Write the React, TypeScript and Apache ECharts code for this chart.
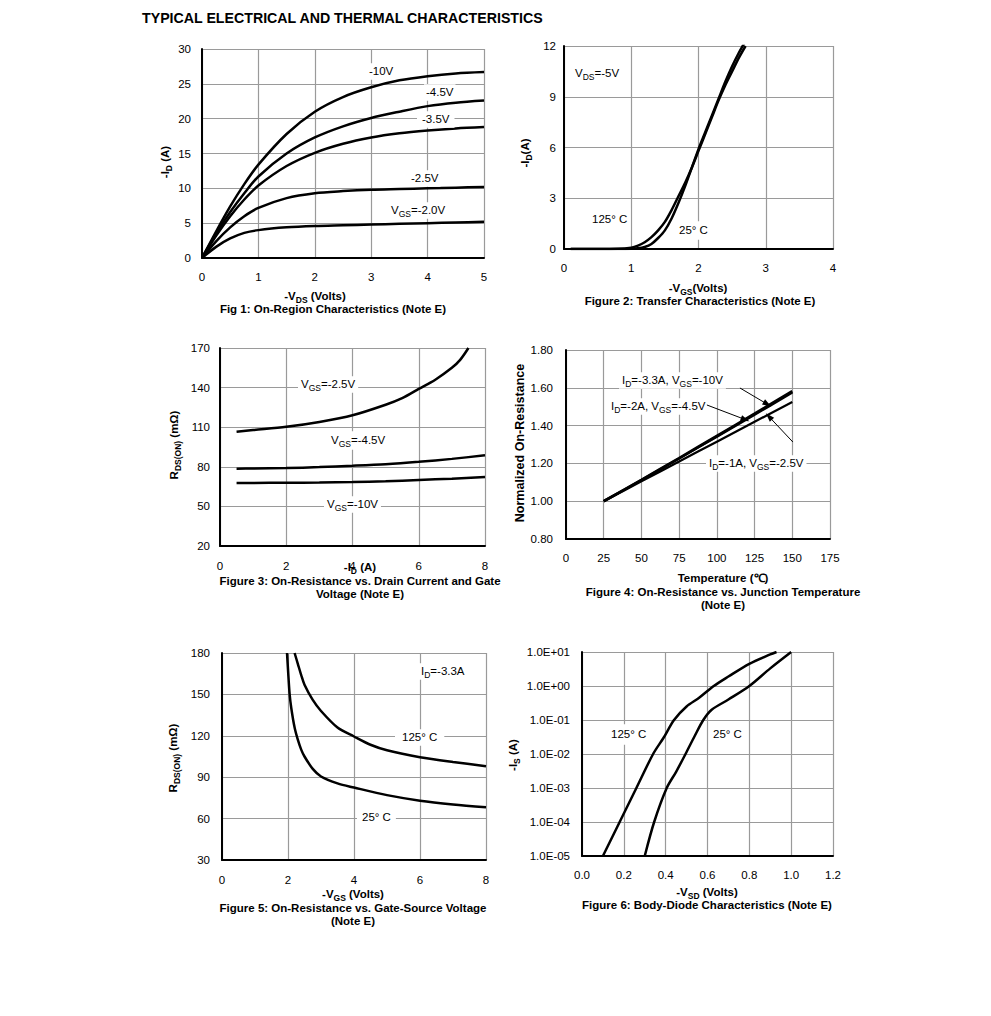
import React, { useEffect, useRef } from "react";
import * as echarts from "echarts";

// ---------- Fig 1: On-region characteristics ----------
const fig1Vds = [0, 0.25, 0.5, 0.75, 1, 1.5, 2, 2.5, 3, 3.5, 4, 4.5, 5];
const fig1Vgs10 = [0, 3.8, 7.4, 10.6, 13.4, 17.8, 21.0, 23.1, 24.5, 25.5, 26.1, 26.5, 26.7];
const fig1Vgs45 = [0, 3.5, 6.6, 9.3, 11.7, 15.0, 17.3, 18.9, 20.1, 21.0, 21.8, 22.3, 22.6];
const fig1Vgs35 = [0, 3.2, 6.0, 8.4, 10.4, 13.2, 15.1, 16.4, 17.3, 17.9, 18.3, 18.6, 18.8];
const fig1Vgs25 = [0, 2.4, 4.4, 6.0, 7.2, 8.6, 9.3, 9.6, 9.8, 9.9, 10.0, 10.1, 10.2];
const fig1Vgs20 = [0, 1.6, 2.8, 3.6, 4.0, 4.4, 4.6, 4.7, 4.8, 4.9, 5.0, 5.1, 5.2];

// ---------- Fig 2: Transfer characteristics ----------
const fig2Vgs = [0.1, 0.5, 0.8, 1.0, 1.1, 1.2, 1.3, 1.4, 1.5, 1.6, 1.7, 1.8, 1.9, 2.0, 2.1, 2.2, 2.3, 2.4, 2.5, 2.6, 2.7];
const fig2Id125 = [0, 0, 0.01, 0.08, 0.2, 0.4, 0.7, 1.1, 1.6, 2.3, 3.1, 3.9, 4.8, 5.8, 6.8, 7.8, 8.8, 9.7, 10.5, 11.3, 12.0];
const fig2Id25 = [0, 0, 0, 0.01, 0.04, 0.12, 0.3, 0.65, 1.1, 1.8, 2.7, 3.7, 4.8, 5.9, 6.9, 7.9, 8.9, 9.9, 10.8, 11.6, 12.3];

// ---------- Fig 3: On-resistance vs drain current ----------
const fig3IdA = [0.5, 1, 2, 3, 4, 5, 5.5, 6, 6.5, 7, 7.25, 7.5];
const fig3R25 = [106.5, 107.8, 110.3, 114, 119, 127, 132, 139, 146, 155, 161, 170];
const fig3IdB = [0.5, 1, 2, 3, 4, 5, 6, 7, 8];
const fig3R45 = [78.6, 78.7, 79, 79.8, 80.8, 82, 83.8, 86, 88.7];
const fig3R10 = [67.8, 67.8, 67.9, 68.1, 68.4, 69, 70, 71, 72.3];

// ---------- Fig 4: Normalized on-resistance vs temperature ----------
const fig4Temp = [25, 50, 75, 100, 125, 150];
const fig4R33 = [1.0, 1.113, 1.228, 1.345, 1.463, 1.582];
const fig4R2 = [1.0, 1.112, 1.226, 1.342, 1.458, 1.575];
const fig4R1 = [1.0, 1.105, 1.21, 1.315, 1.42, 1.525];

// ---------- Fig 5: On-resistance vs gate-source voltage ----------
const fig5Vgs25 = [1.97, 2.0, 2.05, 2.1, 2.2, 2.3, 2.4, 2.5, 2.75, 3, 3.5, 4, 5, 6, 7, 8];
const fig5R25 = [180, 168, 150, 140, 126, 117, 110, 105, 96, 90.5, 85.5, 82.5, 77, 73, 70.3, 68.3];
const fig5Vgs125 = [2.2, 2.3, 2.4, 2.5, 2.75, 3, 3.5, 4, 4.5, 5, 6, 7, 8];
const fig5R125 = [180, 172, 164, 157, 146, 138, 126, 119.5, 113.5, 109.5, 104.5, 101, 98];

// ---------- Fig 6: Body-diode characteristics ----------
const fig6Vsd125 = [0.1, 0.18, 0.26, 0.34, 0.39, 0.44, 0.5, 0.56, 0.63, 0.7, 0.8, 0.9, 0.93];
const fig6Is125 = [1e-5, 1e-4, 1e-3, 1e-2, 3e-2, 0.1, 0.25, 0.45, 1.0, 1.9, 4.5, 8.5, 10];
const fig6Vsd25 = [0.3, 0.345, 0.405, 0.45, 0.495, 0.54, 0.58, 0.62, 0.7, 0.8, 0.9, 1.0];
const fig6Is25 = [1e-5, 1e-4, 1e-3, 3e-3, 1e-2, 3.5e-2, 0.1, 0.2, 0.4, 1.0, 3.3, 10];

const FONT = "'Liberation Sans', Arial, Helvetica, sans-serif";
const FS = 11.5; // normal text size
const SUB = 8.5; // subscript size
const SUB_SHIFT = 3.5;

const zip = (xs: number[], ys: number[]) => xs.map((x, i) => [x, ys[i]]);

let measureCtx: CanvasRenderingContext2D | null = null;
function textWidth(text: string, font: string) {
  if (!measureCtx) measureCtx = document.createElement("canvas").getContext("2d");
  if (!measureCtx) return text.length * 6;
  measureCtx.font = font;
  return measureCtx.measureText(text).width;
}

type Piece = [string, boolean]; // [text, isSubscript]
const P = (...parts: (string | [string])[]): Piece[] =>
  parts.map((p) => (Array.isArray(p) ? [p[0], true] : [p, false]));

function lbl(x: number, y: number, pieces: Piece[], opts: any = {}) {
  const bold = !!opts.bold;
  const size = opts.size || FS;
  const fontOf = (sub: boolean) => `${bold ? "bold " : ""}${sub ? SUB : size}px ${FONT}`;
  const widths = pieces.map(([t, s]) => textWidth(t, fontOf(s)));
  const total = widths.reduce((a, b) => a + b, 0);
  let cx = opts.align === "center" ? -total / 2 : 0;
  const children: any[] = [];
  if (opts.bg) {
    const px = opts.padX ?? 3;
    const py = opts.padY ?? 1;
    children.push({
      type: "rect",
      z: 4,
      silent: true,
      shape: { x: cx - px, y: -size / 2 - py - 1, width: total + 2 * px, height: size + 2 * py + 3 },
      style: { fill: "#fff" },
    });
  }
  pieces.forEach(([t, s], i) => {
    children.push({
      type: "text",
      z: 5,
      x: cx,
      y: s ? SUB_SHIFT : 0,
      style: {
        text: t,
        font: fontOf(s),
        fill: "#000",
        align: "left",
        textAlign: "left",
        verticalAlign: "middle",
        textVerticalAlign: "middle",
      },
    });
    cx += widths[i];
  });
  return { type: "group", x, y, rotation: opts.rotation || 0, z: 5, children };
}

const ROT = Math.PI / 2;

function grid(left: number, top: number, width: number, height: number) {
  return { left, top, width, height, containLabel: false, show: false };
}

function vAxis(gridIndex: number, min: number, max: number, interval: number, margin: number, fmt?: (v: number) => string) {
  return {
    type: "value",
    gridIndex,
    min,
    max,
    interval,
    axisLine: { show: true, onZero: false, lineStyle: { color: "#000", width: 2 } },
    axisTick: { show: false },
    axisLabel: {
      show: true,
      margin,
      color: "#000",
      fontSize: FS,
      fontFamily: FONT,
      formatter: fmt,
      showMinLabel: true,
      showMaxLabel: true,
    },
    splitLine: { show: true, lineStyle: { color: "#9a9a9a", width: 1.2 } },
  };
}

function line(xi: number, data: number[][], width = 2.5, extra: any = {}) {
  return {
    type: "line",
    xAxisIndex: xi,
    yAxisIndex: xi,
    data,
    showSymbol: false,
    symbol: "none",
    smooth: 0.3,
    clip: true,
    lineStyle: { color: "#000", width },
    ...extra,
  };
}

const logFmt = (v: number) => {
  const e = Math.round(Math.log10(v));
  return "1.0E" + (e >= 0 ? "+" : "-") + String(Math.abs(e)).padStart(2, "0");
};

export default function App() {
  const ref = useRef<HTMLDivElement>(null);
  useEffect(() => {
    if (!ref.current) return;
    const chart = echarts.init(ref.current, undefined, { renderer: "svg" });
    const arrowLine = (from: number[], to: number[]) => [
      { coord: from, symbol: "none" },
      { coord: to, symbol: "triangle" },
    ];
    const B = { bold: true, align: "center" };
    const BR = { bold: true, align: "center", rotation: ROT };
    const option: any = {
      animation: false,
      backgroundColor: "#fff",
      textStyle: { fontFamily: FONT },
      grid: [
        grid(202, 49, 282, 209),
        grid(564, 46, 269, 203),
        grid(220, 348, 265, 198),
        grid(566, 350, 264, 189),
        grid(222, 653, 264, 207),
        grid(582, 652, 251, 204),
      ],
      xAxis: [
        vAxis(0, 0, 5, 1, 13),
        vAxis(1, 0, 4, 1, 13),
        vAxis(2, 0, 8, 2, 14),
        vAxis(3, 0, 175, 25, 13),
        vAxis(4, 0, 8, 2, 14),
        vAxis(5, 0, 1.2, 0.2, 13, (v: number) => v.toFixed(1)),
      ],
      yAxis: [
        vAxis(0, 0, 30, 5, 11),
        vAxis(1, 0, 12, 3, 8),
        vAxis(2, 20, 170, 30, 10),
        vAxis(3, 0.8, 1.8, 0.2, 13, (v: number) => v.toFixed(2)),
        vAxis(4, 30, 180, 30, 12),
        {
          type: "log",
          gridIndex: 5,
          logBase: 10,
          min: 1e-5,
          max: 10,
          splitNumber: 6,
          axisLine: { show: true, onZero: false, lineStyle: { color: "#000", width: 2 } },
          axisTick: { show: false },
          axisLabel: { show: true, margin: 12, color: "#000", fontSize: FS, fontFamily: FONT, formatter: logFmt },
          splitLine: { show: true, lineStyle: { color: "#9a9a9a", width: 1.2 } },
        },
      ],
      series: [
        line(0, zip(fig1Vds, fig1Vgs10)),
        line(0, zip(fig1Vds, fig1Vgs45)),
        line(0, zip(fig1Vds, fig1Vgs35)),
        line(0, zip(fig1Vds, fig1Vgs25)),
        line(0, zip(fig1Vds, fig1Vgs20)),
        line(1, zip(fig2Vgs, fig2Id125)),
        line(1, zip(fig2Vgs, fig2Id25)),
        line(2, zip(fig3IdA, fig3R25)),
        line(2, zip(fig3IdB, fig3R45)),
        line(2, zip(fig3IdB, fig3R10)),
        line(3, zip(fig4Temp, fig4R33), 2.8, {
          markLine: {
            silent: true,
            symbolSize: [6, 9],
            label: { show: false },
            lineStyle: { color: "#000", width: 1, type: "solid" },
            data: [
              arrowLine([115.3, 1.599], [133.5, 1.513]),
              arrowLine([93.4, 1.509], [118.8, 1.432]),
              arrowLine([150.4, 1.313], [134.5, 1.448]),
            ],
          },
        }),
        line(3, zip(fig4Temp, fig4R2), 2.5),
        line(3, zip(fig4Temp, fig4R1), 2.2),
        line(4, zip(fig5Vgs25, fig5R25)),
        line(4, zip(fig5Vgs125, fig5R125)),
        line(5, zip(fig6Vsd125, fig6Is125)),
        line(5, zip(fig6Vsd25, fig6Is25)),
      ],
      graphic: [
        {
          type: "text",
          x: 142,
          y: 18,
          style: {
            text: "TYPICAL ELECTRICAL AND THERMAL CHARACTERISTICS",
            font: `bold 14.2px ${FONT}`,
            fill: "#000",
            verticalAlign: "middle",
            textVerticalAlign: "middle",
          },
        },
        // Fig 1
        lbl(369, 71, P("-10V"), { bg: true, padX: 2 }),
        lbl(426, 92, P("-4.5V"), { bg: true, padX: 2 }),
        lbl(422, 119, P("-3.5V"), { bg: true, padX: 5 }),
        lbl(411, 178, P("-2.5V"), { bg: true, padX: 2 }),
        lbl(391, 210, P("V", ["GS"], "=-2.0V"), { bg: true, padX: 2 }),
        lbl(165, 162, P("-I", ["D"], " (A)"), BR),
        lbl(315, 296, P("-V", ["DS"], " (Volts)"), B),
        lbl(333, 309, P("Fig 1: On-Region Characteristics (Note E)"), B),
        // Fig 2
        lbl(575, 73, P("V", ["DS"], "=-5V"), { bg: true, padX: 3, padY: 6 }),
        lbl(592, 219, P("125° C"), { bg: true, padX: 3, padY: 4 }),
        lbl(679, 230, P("25° C"), { bg: true, padX: 3, padY: 2 }),
        lbl(525, 153, P("-I", ["D"], "(A)"), BR),
        lbl(698, 288, P("-V", ["GS"], "(Volts)"), B),
        lbl(700, 301, P("Figure 2: Transfer Characteristics (Note E)"), B),
        // Fig 3
        lbl(301, 384, P("V", ["GS"], "=-2.5V"), { bg: true, padX: 3 }),
        lbl(331, 440, P("V", ["GS"], "=-4.5V"), { bg: true, padX: 3, padY: 2 }),
        lbl(327, 504, P("V", ["GS"], "=-10V"), { bg: true, padX: 3 }),
        lbl(174, 445, P("R", ["DS(ON)"], " (mΩ)"), BR),
        lbl(360, 567, P("-I", ["D"], " (A)"), B),
        lbl(360, 581, P("Figure 3: On-Resistance vs. Drain Current and Gate"), B),
        lbl(360, 594, P("Voltage (Note E)"), B),
        // Fig 4
        lbl(622, 380, P("I", ["D"], "=-3.3A, V", ["GS"], "=-10V"), { bg: true, padX: 3 }),
        lbl(611, 406, P("I", ["D"], "=-2A, V", ["GS"], "=-4.5V"), { bg: true, padX: 3 }),
        lbl(709, 463, P("I", ["D"], "=-1A, V", ["GS"], "=-2.5V"), { bg: true, padX: 3 }),
        lbl(520, 443, P("Normalized On-Resistance"), { ...BR, size: 12.5 }),
        lbl(723, 578, P("Temperature (℃)"), B),
        lbl(723, 592, P("Figure 4: On-Resistance vs. Junction Temperature"), B),
        lbl(723, 605, P("(Note E)"), B),
        // Fig 5
        lbl(421, 671, P("I", ["D"], "=-3.3A"), { bg: true, padX: 2 }),
        lbl(402, 737, P("125° C"), { bg: true, padX: 7 }),
        lbl(362, 817, P("25° C"), { bg: true, padX: 5 }),
        lbl(173, 758, P("R", ["DS(ON)"], " (mΩ)"), BR),
        lbl(353, 894, P("-V", ["GS"], " (Volts)"), B),
        lbl(353, 908, P("Figure 5: On-Resistance vs. Gate-Source Voltage"), B),
        lbl(353, 921, P("(Note E)"), B),
        // Fig 6
        lbl(611, 734, P("125° C"), { bg: true, padX: 3, padY: 3 }),
        lbl(713, 734, P("25° C"), { bg: true, padX: 3, padY: 3 }),
        lbl(513, 755, P("-I", ["S"], " (A)"), BR),
        lbl(707, 892, P("-V", ["SD"], " (Volts)"), B),
        lbl(707, 905, P("Figure 6: Body-Diode Characteristics (Note E)"), B),
      ],
    };
    chart.setOption(option);
    return () => chart.dispose();
  }, []);
  return (
    <div
      ref={ref}
      style={{ position: "fixed", left: 0, top: 0, width: 991, height: 1016, background: "#fff" }}
    />
  );
}
